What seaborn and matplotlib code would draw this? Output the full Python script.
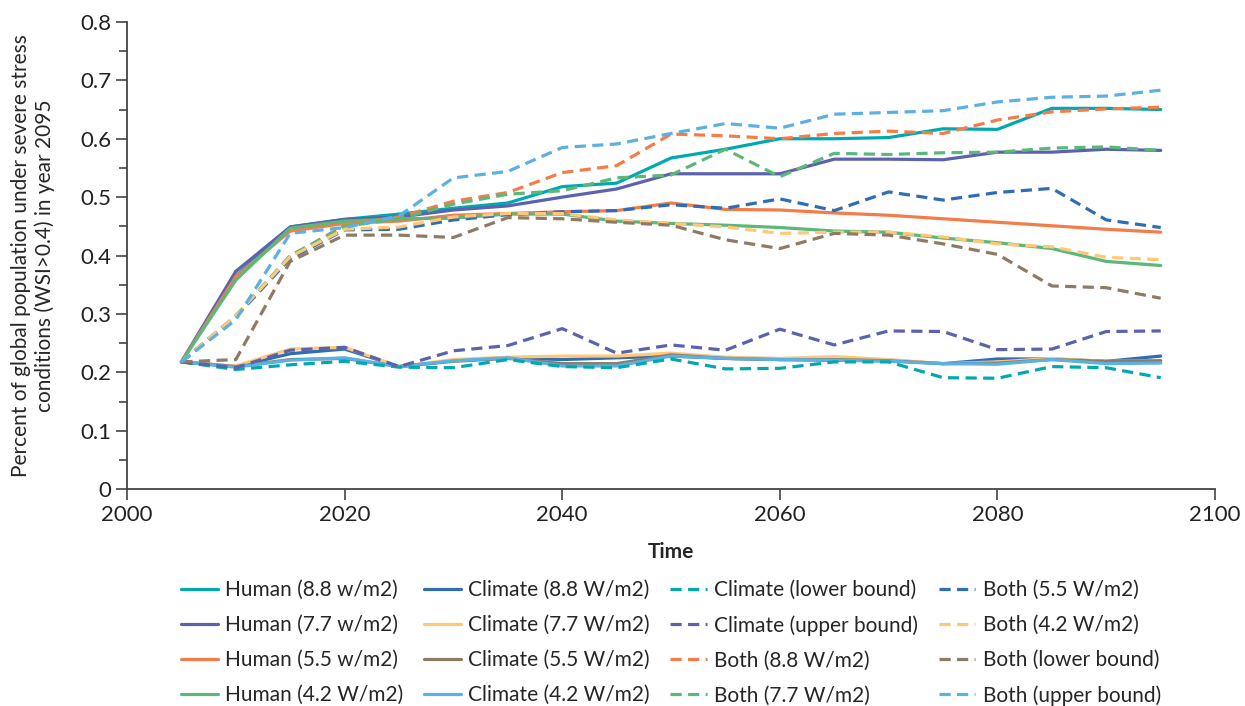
import pandas as pd
import matplotlib
matplotlib.use('Agg')
import matplotlib.pyplot as plt
import seaborn as sns
from matplotlib.ticker import MultipleLocator

sns.set_style('white')
plt.rcParams['font.family'] = ['Lato', 'DejaVu Sans']

years = [2005, 2010, 2015, 2020, 2025, 2030, 2035, 2040, 2045, 2050,
         2055, 2060, 2065, 2070, 2075, 2080, 2085, 2090, 2095]

human_88 = [0.218, 0.365, 0.449, 0.462, 0.471, 0.481, 0.490, 0.518, 0.524, 0.567,
            0.582, 0.600, 0.600, 0.602, 0.617, 0.616, 0.652, 0.652, 0.650]
human_77 = [0.218, 0.373, 0.449, 0.462, 0.466, 0.478, 0.485, 0.500, 0.514, 0.540,
            0.540, 0.540, 0.565, 0.565, 0.564, 0.577, 0.577, 0.582, 0.580]
human_55 = [0.218, 0.364, 0.442, 0.455, 0.459, 0.469, 0.472, 0.475, 0.477, 0.490,
            0.479, 0.478, 0.473, 0.469, 0.463, 0.457, 0.451, 0.445, 0.440]
human_42 = [0.218, 0.358, 0.447, 0.459, 0.463, 0.464, 0.471, 0.471, 0.459, 0.455,
            0.452, 0.448, 0.442, 0.440, 0.430, 0.422, 0.412, 0.390, 0.383]

climate_88 = [0.218, 0.210, 0.232, 0.240, 0.210, 0.220, 0.225, 0.222, 0.225, 0.228,
              0.224, 0.222, 0.221, 0.221, 0.215, 0.223, 0.223, 0.219, 0.228]
climate_77 = [0.218, 0.211, 0.240, 0.243, 0.210, 0.222, 0.226, 0.228, 0.228, 0.233,
              0.226, 0.224, 0.227, 0.222, 0.215, 0.218, 0.224, 0.219, 0.220]
climate_55 = [0.218, 0.210, 0.222, 0.224, 0.210, 0.219, 0.224, 0.215, 0.215, 0.230,
              0.224, 0.222, 0.222, 0.220, 0.215, 0.216, 0.222, 0.219, 0.220]
climate_42 = [0.218, 0.209, 0.221, 0.225, 0.210, 0.220, 0.225, 0.211, 0.211, 0.228,
              0.224, 0.222, 0.221, 0.219, 0.215, 0.214, 0.222, 0.215, 0.216]
climate_lower = [0.218, 0.205, 0.213, 0.219, 0.209, 0.208, 0.222, 0.210, 0.208, 0.223,
                 0.206, 0.207, 0.218, 0.218, 0.191, 0.190, 0.210, 0.208, 0.191]
climate_upper = [0.218, 0.208, 0.238, 0.243, 0.210, 0.237, 0.246, 0.275, 0.233, 0.247,
                 0.238, 0.274, 0.247, 0.271, 0.270, 0.239, 0.240, 0.270, 0.271]

both_88 = [0.218, 0.297, 0.398, 0.452, 0.466, 0.493, 0.508, 0.542, 0.554, 0.608,
           0.605, 0.600, 0.609, 0.613, 0.609, 0.632, 0.646, 0.651, 0.654]
both_77 = [0.218, 0.297, 0.400, 0.450, 0.463, 0.488, 0.505, 0.511, 0.533, 0.538,
           0.582, 0.535, 0.575, 0.573, 0.576, 0.577, 0.584, 0.586, 0.580]
both_55 = [0.218, 0.295, 0.395, 0.444, 0.445, 0.461, 0.470, 0.475, 0.477, 0.487,
           0.481, 0.497, 0.477, 0.509, 0.495, 0.508, 0.515, 0.461, 0.448]
both_42 = [0.218, 0.297, 0.398, 0.445, 0.449, 0.466, 0.472, 0.472, 0.461, 0.455,
           0.449, 0.438, 0.440, 0.440, 0.432, 0.420, 0.415, 0.397, 0.393]
both_lower = [0.218, 0.222, 0.390, 0.435, 0.435, 0.431, 0.465, 0.463, 0.457, 0.452,
              0.427, 0.412, 0.438, 0.435, 0.420, 0.402, 0.348, 0.345, 0.327]
both_upper = [0.218, 0.290, 0.438, 0.448, 0.468, 0.533, 0.544, 0.585, 0.591, 0.609,
              0.626, 0.618, 0.642, 0.645, 0.648, 0.663, 0.671, 0.673, 0.683]

labels = ['Human (8.8 w/m2)', 'Human (7.7 w/m2)', 'Human (5.5 w/m2)', 'Human (4.2 W/m2)',
          'Climate (8.8 W/m2)', 'Climate (7.7 W/m2)', 'Climate (5.5 W/m2)', 'Climate (4.2 W/m2)',
          'Climate (lower bound)', 'Climate (upper bound)', 'Both (8.8 W/m2)', 'Both (7.7 W/m2)',
          'Both (5.5 W/m2)', 'Both (4.2 W/m2)', 'Both (lower bound)', 'Both (upper bound)']
series = [human_88, human_77, human_55, human_42,
          climate_88, climate_77, climate_55, climate_42,
          climate_lower, climate_upper, both_88, both_77,
          both_55, both_42, both_lower, both_upper]

# 8 colours, used once solid and once dashed
colors = ['#00A9B2', '#5B62AE', '#F47C48', '#5BB878',
          '#2F6DB5', '#FFC878', '#8E7B63', '#5BB0E4']

fig, ax = plt.subplots(figsize=(12.45, 7.06), dpi=100)
fig.subplots_adjust(left=0.102, right=0.976, top=0.969, bottom=0.307)

for i, (lab, vals) in enumerate(zip(labels, series)):
    col = colors[i % 8]
    dashed = i >= 8
    sns.lineplot(x=years, y=vals, ax=ax, color=col, linewidth=2.3, label=lab,
                 linestyle='--' if dashed else '-')
    if dashed:
        ax.lines[-1].set_dashes((3.5, 2))

ax.set_xlim(2000, 2100)
ax.set_ylim(0, 0.8)
ax.xaxis.set_major_locator(MultipleLocator(20))
ax.yaxis.set_major_locator(MultipleLocator(0.1))
ax.yaxis.set_minor_locator(MultipleLocator(0.05))
ax.set_yticklabels(['0' if abs(t) < 1e-9 else f'{t:.1f}' for t in ax.get_yticks()])

for s in ['top', 'right']:
    ax.spines[s].set_visible(False)
for s in ['left', 'bottom']:
    ax.spines[s].set_color('#444444')
    ax.spines[s].set_linewidth(1.3)
ax.tick_params(axis='both', which='major', direction='out', length=8, width=1.2,
               color='#444444', labelsize=16, labelcolor='#222222', left=True, bottom=True)
ax.tick_params(axis='y', which='minor', direction='out', length=6, width=1.2,
               color='#444444', left=True)

ax.set_xlabel('Time', fontsize=15, fontweight='bold', labelpad=12)
ax.set_ylabel('Percent of global population under severe stress\nconditions (WSI>0.4) in year 2095',
              fontsize=15, labelpad=18)

ax.legend(ncol=4, loc='upper center', bbox_to_anchor=(0.5, -0.154), frameon=False,
          fontsize=15, handlelength=1.75, handletextpad=0.35, columnspacing=1.0,
          labelspacing=0.72)

plt.savefig('out.png', dpi=100)
